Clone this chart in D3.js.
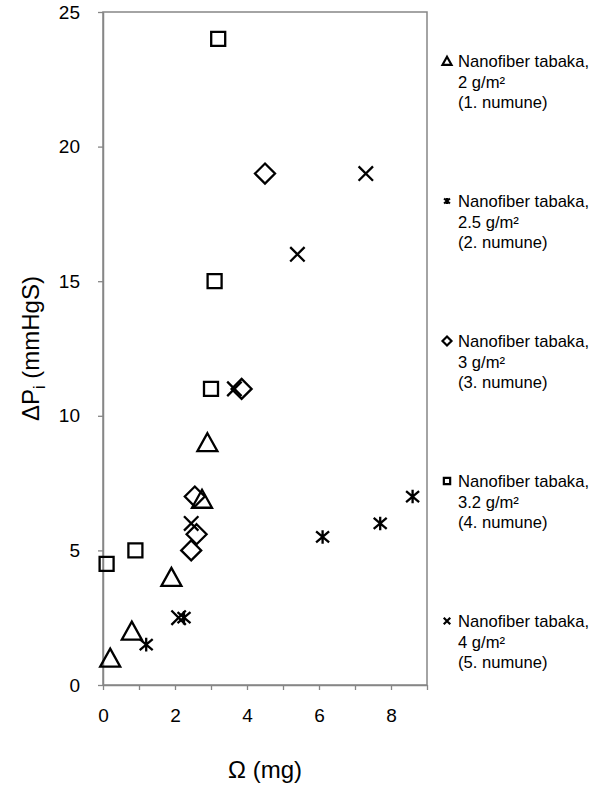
<!DOCTYPE html>
<html>
<head>
<meta charset="utf-8">
<script src="https://cdn.jsdelivr.net/npm/d3@7"></script>
<style>
  body { margin: 0; background: #fff; }
  svg { display: block; font-family: 'Liberation Sans', Arial, sans-serif; }
</style>
</head>
<body>
<div id="chart"></div>
<script>
// series data: [x (mg), y (mmHgS)]
const seriesNames = ['2 g/m²', '2.5 g/m²', '3 g/m²', '3.2 g/m²', '4 g/m²'];
const seriesLabels = ['(1. numune)', '(2. numune)', '(3. numune)', '(4. numune)', '(5. numune)'];
const seriesShapes = ['triangle', 'asterisk', 'diamond', 'square', 'cross'];

const s1 = [[0.2, 1], [0.8, 2], [1.9, 4], [2.75, 6.9], [2.9, 9]];
const s2 = [[1.2, 1.5], [2.25, 2.5], [6.1, 5.5], [7.7, 6], [8.6, 7]];
const s3 = [[2.45, 5], [2.6, 5.6], [2.55, 7], [3.85, 11], [4.5, 19]];
const s4 = [[0.1, 4.5], [0.9, 5], [3.0, 11], [3.1, 15], [3.2, 24]];
const s5 = [[2.1, 2.5], [2.45, 6], [3.65, 11], [5.4, 16], [7.3, 19]];
const allSeries = [s1, s2, s3, s4, s5];

const xTicks = [0, 1, 2, 3, 4, 5, 6, 7, 8, 9];
const yTicks = [0, 5, 10, 15, 20, 25];

const W = 597, H = 789;
const margin = { top: 12, right: 170, bottom: 104, left: 103 };
const width = W - margin.left - margin.right;   // 324
const height = H - margin.top - margin.bottom;  // 673

const svg = d3.select('#chart').append('svg').attr('width', W).attr('height', H);
const g = svg.append('g').attr('transform', `translate(${margin.left},${margin.top})`);

const x = d3.scaleLinear().domain([0, 9]).range([0, width]);
const y = d3.scaleLinear().domain([0, 25]).range([height, 0]);

const axisColor = '#868686';

// plot border (top / right)
g.append('rect')
  .attr('x', 0).attr('y', 0).attr('width', width).attr('height', height)
  .attr('fill', 'none').attr('stroke', axisColor).attr('stroke-width', 1.5);

// x axis: ticks every 1, labels on even numbers
const xAxis = g.append('g')
  .attr('transform', `translate(0,${height})`)
  .call(d3.axisBottom(x).tickValues(xTicks).tickSize(5).tickSizeOuter(0)
    .tickFormat((d) => (d % 2 === 0 ? d : '')));
xAxis.select('.domain').attr('stroke', axisColor).attr('stroke-width', 1.5);
xAxis.selectAll('.tick line').attr('stroke', axisColor).attr('stroke-width', 1.3);
xAxis.selectAll('.tick text')
  .attr('y', 30).attr('dy', '0.35em')
  .style('font-size', '19px').attr('fill', '#000').style('font-family', "'Liberation Sans', Arial, sans-serif");

// y axis
const yAxis = g.append('g')
  .call(d3.axisLeft(y).tickValues(yTicks).tickSize(5).tickSizeOuter(0));
yAxis.select('.domain').attr('stroke', axisColor).attr('stroke-width', 1.5);
yAxis.selectAll('.tick line').attr('stroke', axisColor).attr('stroke-width', 1.3);
yAxis.selectAll('.tick text')
  .attr('x', -23)
  .style('font-size', '19px').attr('fill', '#000').style('font-family', "'Liberation Sans', Arial, sans-serif");

// marker paths, centred on 0,0
const shapePath = {
  triangle: (s) => `M0,${-s * 0.95}L${s},${s * 0.85}L${-s},${s * 0.85}Z`,
  square: (s) => `M${-s * 0.7},${-s * 0.7}H${s * 0.7}V${s * 0.7}H${-s * 0.7}Z`,
  diamond: (s) => `M0,${-s}L${s},0L0,${s}L${-s},0Z`,
  cross: (s) => `M${-s * 0.72},${-s * 0.72}L${s * 0.72},${s * 0.72}M${s * 0.72},${-s * 0.72}L${-s * 0.72},${s * 0.72}`,
  asterisk: (s) => `M${-s * 0.65},${-s * 0.55}L${s * 0.65},${s * 0.55}M${s * 0.65},${-s * 0.55}L${-s * 0.65},${s * 0.55}M0,${-s * 0.68}V${s * 0.68}`,
};

allSeries.forEach((data, i) => {
  g.append('g')
    .selectAll('path')
    .data(data)
    .enter()
    .append('path')
    .attr('transform', (d) => `translate(${x(d[0])},${y(d[1])})`)
    .attr('d', shapePath[seriesShapes[i]](10))
    .attr('fill', 'none')
    .attr('stroke', '#000')
    .attr('stroke-width', 2.3)
    .attr('stroke-linejoin', 'miter');
});

// axis titles
svg.append('text')
  .attr('x', margin.left + width / 2)
  .attr('y', 778)
  .attr('text-anchor', 'middle')
  .style('font-size', '24px')
  .text('Ω (mg)');

const yTitle = svg.append('text')
  .attr('transform', `translate(39,${margin.top + height / 2}) rotate(-90)`)
  .attr('text-anchor', 'middle')
  .style('font-size', '24px');
yTitle.append('tspan').text('ΔP');
yTitle.append('tspan').attr('dy', 6).style('font-size', '16px').text('i');
yTitle.append('tspan').attr('dy', -6).text(' (mmHgS)');

// legend
const legend = svg.append('g').attr('transform', 'translate(447,61)');
seriesNames.forEach((name, i) => {
  const item = legend.append('g').attr('transform', `translate(0,${i * 140})`);
  item.append('path')
    .attr('d', shapePath[seriesShapes[i]](4.5))
    .attr('fill', 'none')
    .attr('stroke', '#000')
    .attr('stroke-width', 2.2);
  const t = item.append('text').style('font-size', '16.6px').attr('y', 6);
  t.append('tspan').attr('x', 11).text('Nanofiber tabaka,');
  t.append('tspan').attr('x', 11).attr('dy', 20.5).text(name);
  t.append('tspan').attr('x', 11).attr('dy', 20.5).text(seriesLabels[i]);
});
</script>
</body>
</html>
